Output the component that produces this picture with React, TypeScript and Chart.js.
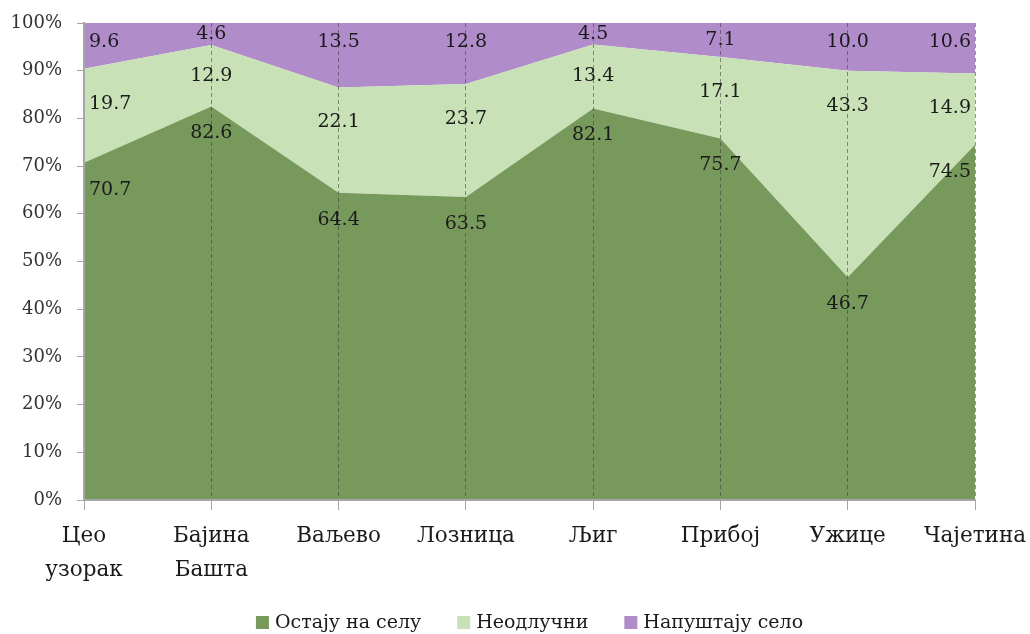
import React, { useEffect, useRef } from 'react';
import { Chart, registerables } from 'chart.js';

Chart.register(...registerables);

const categories: (string | string[])[] = [
  ['Цео', 'узорак'],
  ['Бајина', 'Башта'],
  'Ваљево',
  'Лозница',
  'Љиг',
  'Прибој',
  'Ужице',
  'Чајетина',
];
const stayValues = [70.7, 82.6, 64.4, 63.5, 82.1, 75.7, 46.7, 74.5];
const undecidedValues = [19.7, 12.9, 22.1, 23.7, 13.4, 17.1, 43.3, 14.9];
const leaveValues = [9.6, 4.6, 13.5, 12.8, 4.5, 7.1, 10.0, 10.6];
const seriesNames = ['Остају на селу', 'Неодлучни', 'Напуштају село'];
const seriesColors = ['#77995b', '#c8e1b6', '#b08ccb'];
const yTickMax = 100;
const yTickStep = 10;

const FONT = '"DejaVu Serif", "Liberation Serif", serif';

const rawSeries = [stayValues, undecidedValues, leaveValues];
const totals = stayValues.map((_, j) => rawSeries.reduce((s, arr) => s + arr[j], 0));
// 100% stacked: each value as share of its category total
const shareSeries = rawSeries.map((arr) => arr.map((v, j) => (v / totals[j]) * 100));

const labelCaps = [27, 35, 19];

const areaLabelsPlugin = {
  id: 'areaLabels',
  afterDraw(chart: any) {
    const { ctx, chartArea } = chart;
    ctx.save();
    ctx.font = `19px ${FONT}`;
    ctx.fillStyle = '#1a1a1a';
    ctx.textBaseline = 'middle';
    chart.data.datasets.forEach((ds: any, i: number) => {
      const meta = chart.getDatasetMeta(i);
      const below = i > 0 ? chart.getDatasetMeta(i - 1) : null;
      meta.data.forEach((pt: any, j: number) => {
        const top = pt.y;
        const bottom = below ? below.data[j].y : chartArea.bottom;
        const off = Math.min((bottom - top) / 2, labelCaps[i]);
        const y = top + off;
        const text = rawSeries[i][j].toFixed(1);
        let x = pt.x;
        if (j === 0) {
          ctx.textAlign = 'left';
          x = pt.x + 5;
        } else if (j === meta.data.length - 1) {
          ctx.textAlign = 'right';
          x = pt.x - 4;
        } else {
          ctx.textAlign = 'center';
        }
        ctx.fillText(text, x, y);
      });
    });
    ctx.restore();
  },
};

const legendPlugin = {
  id: 'bottomLegend',
  afterDraw(chart: any) {
    const { ctx, chartArea } = chart;
    ctx.save();
    ctx.font = `19px ${FONT}`;
    ctx.textBaseline = 'middle';
    ctx.textAlign = 'left';
    const box = 13;
    const gap = 6;
    const spacing = 36;
    const labels = chart.data.datasets.map((d: any) => d.label as string);
    const widths = labels.map((l: string) => ctx.measureText(l).width);
    const total =
      widths.reduce((a: number, w: number) => a + box + gap + w, 0) + spacing * (labels.length - 1);
    let x = (chartArea.left + chartArea.right) / 2 - total / 2;
    const cy = chart.height - 11.5;
    labels.forEach((l: string, i: number) => {
      ctx.fillStyle = chart.data.datasets[i].backgroundColor;
      ctx.fillRect(x, cy - box / 2, box, box);
      ctx.fillStyle = '#1a1a1a';
      ctx.fillText(l, x + box + gap, cy + 1);
      x += box + gap + widths[i] + spacing;
    });
    ctx.restore();
  },
};

export default function App() {
  const canvasRef = useRef<HTMLCanvasElement | null>(null);

  useEffect(() => {
    if (!canvasRef.current) return;
    const chart = new Chart(canvasRef.current, {
      type: 'line',
      data: {
        labels: categories,
        datasets: shareSeries.map((data, i) => ({
          label: seriesNames[i],
          data,
          backgroundColor: seriesColors[i],
          borderColor: seriesColors[i],
          borderWidth: 0,
          pointRadius: 0,
          pointHoverRadius: 0,
          tension: 0,
          fill: i === 0 ? 'origin' : '-1',
        })),
      },
      options: {
        animation: false,
        responsive: true,
        maintainAspectRatio: false,
        events: [],
        layout: { padding: { top: 23, right: 55, left: 0, bottom: 44 } },
        plugins: {
          legend: { display: false },
          tooltip: { enabled: false },
          filler: { propagate: false },
        },
        scales: {
          x: {
            offset: false,
            grid: {
              z: 1,
              display: true,
              drawOnChartArea: true,
              drawTicks: true,
              tickLength: 10,
              lineWidth: 1,
              color: (c: any) => (c.index === 0 ? 'rgba(0,0,0,0)' : 'rgba(60,60,60,0.55)'),
              tickColor: '#a6a6a6',
            },
            border: { z: 2, display: true, color: '#a6a6a6', width: 2, dash: [4, 3] },
            ticks: {
              color: '#1a1a1a',
              font: { family: FONT, size: 21.5, lineHeight: 1.58 },
              padding: 9,
              maxRotation: 0,
              autoSkip: false,
            },
            afterFit: (s: any) => {
              s.height = 90;
              s.paddingLeft = 0;
              s.paddingRight = 0;
            },
          },
          y: {
            stacked: true,
            min: 0,
            max: yTickMax,
            grid: {
              z: 1,
              display: true,
              drawOnChartArea: false,
              drawTicks: true,
              tickLength: 7,
              tickColor: '#a6a6a6',
            },
            border: { z: 2, display: true, color: '#a6a6a6', width: 2 },
            ticks: {
              stepSize: yTickStep,
              color: '#333333',
              font: { family: FONT, size: 18 },
              padding: 15,
              callback: (v: any) => `${v}%`,
            },
            afterFit: (s: any) => {
              s.width = 84;
              s.paddingTop = 0;
              s.paddingBottom = 0;
            },
          },
        },
      },
      plugins: [areaLabelsPlugin, legendPlugin],
    });
    return () => chart.destroy();
  }, []);

  return (
    <div style={{ position: 'absolute', left: 0, top: 0, width: 1030, height: 634, background: '#ffffff' }}>
      <canvas ref={canvasRef} />
    </div>
  );
}
